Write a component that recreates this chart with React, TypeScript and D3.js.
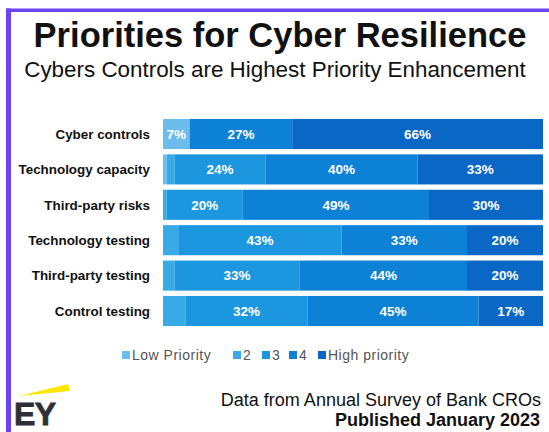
import React from "react";
import * as d3 from "d3";

const categories = [
  "Cyber controls",
  "Technology capacity",
  "Third-party risks",
  "Technology testing",
  "Third-party testing",
  "Control testing",
];
const seriesNames = ["Low Priority", "2", "3", "4", "High priority"];
const lowPriority = [7, 1, 0, 0, 0, 0];
const priority2 = [0, 2, 1, 4, 3, 6];
const priority3 = [0, 24, 20, 43, 33, 32];
const priority4 = [27, 40, 49, 33, 44, 45];
const highPriority = [66, 33, 30, 20, 20, 17];
const seriesColors = ["#6cbdee", "#38abe6", "#1c97df", "#0c81d6", "#0a67c6"];
const legendX = [122, 233, 262, 289, 318];

const W = 549;
const H = 432;
const FONT = "'Liberation Sans', Arial, Helvetica, sans-serif";

export default function App() {
  const series = [lowPriority, priority2, priority3, priority4, highPriority];
  const rows = categories.map((c, i) => {
    const r: any = { category: c };
    seriesNames.forEach((s, j) => (r[s] = series[j][i]));
    return r;
  });
  const stack = d3.stack().keys(seriesNames)(rows as any);

  const x = d3.scaleLinear().domain([0, 100]).range([163, 543]);
  const y = d3
    .scaleBand()
    .domain(categories)
    .range([116.3, 328.7])
    .paddingInner(0.15)
    .paddingOuter(0.075);

  return (
    <svg
      width={W}
      height={H}
      style={{ position: "absolute", left: 0, top: 0, background: "#fff" }}
      fontFamily={FONT}
    >
      <rect x={0} y={0} width={W} height={H} fill="#fff" />
      {/* purple frame */}
      <rect x={6} y={8.5} width={W - 6} height={3.5} fill="#6b43f2" />
      <rect x={6} y={8.5} width={5} height={H - 8.5} fill="#6b43f2" />

      <text x={280} y={47} textAnchor="middle" fontSize={34.5} fontWeight="bold" fill="#111">
        Priorities for Cyber Resilience
      </text>
      <text x={275} y={77} textAnchor="middle" fontSize={22.4} fill="#111">
        Cybers Controls are Highest Priority Enhancement
      </text>

      {/* bars */}
      {stack.map((layer, j) => (
        <g key={layer.key}>
          {layer.map((d: any, i: number) => {
            const x0 = x(d[0]);
            const x1 = x(d[1]);
            const v = d[1] - d[0];
            if (v <= 0) return null;
            const cat = categories[i];
            const yy = y(cat)!;
            return (
              <g key={cat}>
                <rect x={x0} y={yy} width={x1 - x0} height={y.bandwidth()} fill={seriesColors[j]} />
                {v >= 7 && (
                  <text
                    x={(x0 + x1) / 2}
                    y={yy + y.bandwidth() / 2}
                    dy="0.36em"
                    textAnchor="middle"
                    fontSize={13.5}
                    fontWeight="bold"
                    fill="#fff"
                  >
                    {v}%
                  </text>
                )}
              </g>
            );
          })}
        </g>
      ))}

      {/* category labels */}
      {categories.map((c) => (
        <text
          key={c}
          x={150}
          y={y(c)! + y.bandwidth() / 2}
          dy="0.36em"
          textAnchor="end"
          fontSize={13.4}
          fontWeight="bold"
          fill="#111"
        >
          {c}
        </text>
      ))}

      {/* legend */}
      {seriesNames.map((s, j) => (
        <g key={s}>
          <rect x={legendX[j]} y={351} width={8} height={8} fill={seriesColors[j]} />
          <text x={legendX[j] + 10} y={355} dy="0.36em" fontSize={14} fill="#555" letterSpacing={0.5}>
            {s}
          </text>
        </g>
      ))}

      {/* EY logo */}
      <polygon points="19,396 68,384 70,391" fill="#ffe600" />
      <text
        x={14}
        y={425}
        fontSize={32}
        fontWeight="bold"
        fill="#2e2e38"
        stroke="#2e2e38"
        strokeWidth={0.8}
        letterSpacing={-0.5}
      >
        EY
      </text>

      <text x={541} y={406} textAnchor="end" fontSize={18} fill="#111">
        Data from Annual Survey of Bank CROs
      </text>
      <text x={540} y={426} textAnchor="end" fontSize={18} fontWeight="bold" fill="#111">
        Published January 2023
      </text>
    </svg>
  );
}
